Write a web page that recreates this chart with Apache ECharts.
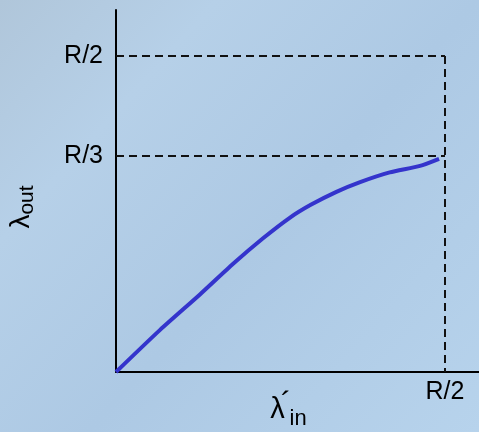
<!DOCTYPE html>
<html>
<head>
<meta charset="utf-8">
<script src="https://cdn.jsdelivr.net/npm/echarts@6/dist/echarts.min.js"></script>
<style>
  html, body { margin: 0; padding: 0; }
  #chart { width: 479px; height: 432px; }
</style>
</head>
<body>
<div id="chart"></div>
<script>
  // curve, x and y in units of R
  var lambdaIn = [0, 0.067, 0.128, 0.178, 0.223, 0.264, 0.296, 0.335, 0.371, 0.416, 0.462, 0.491];
  var lambdaOut = [0, 0.065, 0.120, 0.167, 0.206, 0.238, 0.258, 0.278, 0.293, 0.308, 0.318, 0.329];

  // tick values and labels
  var xTickValues = [0.5];
  var xTickLabels = ['R/2'];
  var yTickValues = [0.3333, 0.4877];
  var yTickLabels = ['R/3', 'R/2'];

  // dashed guides
  var guideX = 0.5;
  var guideY = [0.3333, 0.4877];

  var points = [];
  for (var i = 0; i < lambdaIn.length; i++) {
    points.push([lambdaIn[i], lambdaOut[i]]);
  }

  var dash = { color: '#111', width: 2, type: [8, 5] };
  var guides = [
    [{ coord: [0, guideY[1]] }, { coord: [guideX, guideY[1]] }],
    [{ coord: [guideX, guideY[1]] }, { coord: [guideX, 0] }],
    [{ coord: [0, guideY[0]] }, { coord: [guideX, guideY[0]] }]
  ];

  function tickLabel(values, labels) {
    return function (v) {
      for (var k = 0; k < values.length; k++) {
        if (Math.abs(values[k] - v) < 1e-6) return labels[k];
      }
      return '';
    };
  }

  var font = 'Liberation Sans';

  var myChart = echarts.init(document.getElementById('chart'));
  var option = {
    backgroundColor: new echarts.graphic.LinearGradient(0, 0, 1, 1, [
      { offset: 0, color: '#b0c6da' },
      { offset: 0.25, color: '#b6d0e8' },
      { offset: 0.55, color: '#adc9e4' },
      { offset: 1, color: '#b7d3ec' }
    ]),
    animation: false,
    grid: {
      left: 116,
      right: 0,
      top: 10,
      bottom: 60,
      containLabel: false,
      outerBoundsMode: 'none'
    },
    textStyle: { fontFamily: font },
    xAxis: {
      type: 'value',
      min: 0,
      max: 0.5517,
      name: '{l|λ}{p|´}{s|in}',
      nameLocation: 'middle',
      nameGap: 17,
      nameMoveOverlap: false,
      nameTextStyle: {
        padding: [0, 18, 0, 0],
        rich: {
          l: { fontSize: 29, color: '#000', fontFamily: font, verticalAlign: 'bottom', padding: [6, 0, 6, 0] },
          p: { fontSize: 32, color: '#000', fontFamily: font, verticalAlign: 'top', padding: [0, 0, 0, -4] },
          s: { fontSize: 22, color: '#000', fontFamily: font, verticalAlign: 'bottom', padding: [0, 0, 0, -2] }
        }
      },
      axisLine: { onZero: false, lineStyle: { color: '#000', width: 2 } },
      axisTick: { show: false },
      splitLine: { show: false },
      axisLabel: {
        customValues: xTickValues,
        formatter: tickLabel(xTickValues, xTickLabels),
        color: '#000',
        fontSize: 25,
        margin: 8
      }
    },
    yAxis: {
      type: 'value',
      min: 0,
      max: 0.5586,
      name: '{l|λ}{s|out}',
      nameLocation: 'middle',
      nameRotate: 90,
      nameGap: 78,
      nameMoveOverlap: false,
      nameTextStyle: {
        padding: [0, 32, 0, 0],
        rich: {
          l: { fontSize: 28, color: '#000', fontFamily: font, verticalAlign: 'top' },
          s: { fontSize: 21, color: '#000', fontFamily: font, verticalAlign: 'bottom', padding: [10, 0, 0, 0] }
        }
      },
      axisLine: { onZero: false, lineStyle: { color: '#000', width: 2 } },
      axisTick: { show: false },
      splitLine: { show: false },
      axisLabel: {
        customValues: yTickValues,
        formatter: tickLabel(yTickValues, yTickLabels),
        color: '#000',
        fontSize: 25,
        margin: 13
      }
    },
    series: [
      {
        type: 'line',
        data: points,
        smooth: 0.2,
        symbol: 'none',
        lineStyle: { color: '#3434cc', width: 4 },
        markLine: {
          silent: true,
          symbol: 'none',
          label: { show: false },
          lineStyle: dash,
          data: guides
        },
        z: 3
      }
    ]
  };
  myChart.setOption(option);
</script>
</body>
</html>
